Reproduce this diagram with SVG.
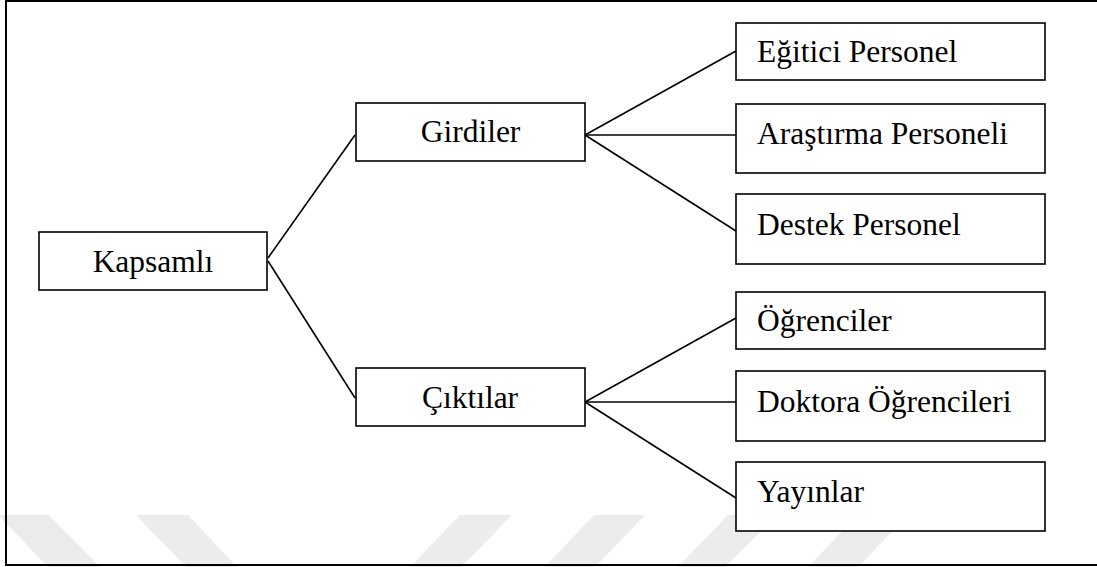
<svg xmlns="http://www.w3.org/2000/svg" width="1097" height="567" viewBox="0 0 1097 567">
<style>
.box{fill:#fff;stroke:#000;stroke-width:1.6}
.lbl{font-family:"Liberation Serif","Times New Roman",serif;font-size:31.5px;fill:#000}
.mid{text-anchor:middle}
.wm{fill:#ececec}
.conn line{stroke:#000;stroke-width:1.6}
</style>
<rect width="1097" height="567" fill="#fff"/>
<g id="watermark">
<polygon class="wm" points="-2,515 49,515 100,567 48,567"/>
<polygon class="wm" points="136,515 188,515 237,567 186,567"/>
<polygon class="wm" points="460,515 512,515 461,567 410,567"/>
<polygon class="wm" points="594,515 645,515 595,567 545,567"/>
<polygon class="wm" points="728,515 778,515 725,567 678,567"/>
<polygon class="wm" points="858,515 908,515 858,567 808,567"/>
</g>
<rect id="frame" x="6" y="1" width="1100" height="564" fill="none" stroke="#000" stroke-width="2"/>
<g id="connectors" class="conn">
<line x1="268" y1="258" x2="355" y2="135"/>
<line x1="268" y1="261" x2="355" y2="398"/>
<line x1="585" y1="135" x2="736" y2="51"/>
<line x1="585" y1="135" x2="736" y2="135"/>
<line x1="585" y1="135" x2="736" y2="231"/>
<line x1="585" y1="402" x2="736" y2="318"/>
<line x1="585" y1="402" x2="736" y2="402"/>
<line x1="585" y1="402" x2="736" y2="498"/>
</g>
<g id="kapsamli"><rect class="box" x="39" y="232" width="228" height="58"/><text class="lbl mid" x="153" y="272">Kapsamlı</text></g>
<g id="girdiler"><rect class="box" x="356" y="103" width="229" height="58"/><text class="lbl mid" x="470.5" y="142">Girdiler</text></g>
<g id="ciktilar"><rect class="box" x="356" y="368" width="229" height="58"/><text class="lbl mid" x="470" y="408">Çıktılar</text></g>
<g id="egitici"><rect class="box" x="736" y="23" width="309" height="57"/><text class="lbl" x="757" y="62">Eğitici Personel</text></g>
<g id="arastirma"><rect class="box" x="736" y="104" width="309" height="69"/><text class="lbl" x="757" y="144">Araştırma Personeli</text></g>
<g id="destek"><rect class="box" x="736" y="194" width="309" height="70"/><text class="lbl" x="757" y="235">Destek Personel</text></g>
<g id="ogrenciler"><rect class="box" x="736" y="292" width="309" height="57"/><text class="lbl" x="757" y="331">Öğrenciler</text></g>
<g id="doktora"><rect class="box" x="736" y="371" width="309" height="70"/><text class="lbl" x="757" y="412">Doktora Öğrencileri</text></g>
<g id="yayinlar"><rect class="box" x="736" y="462" width="309" height="69"/><text class="lbl" x="757" y="502">Yayınlar</text></g>
</svg>
